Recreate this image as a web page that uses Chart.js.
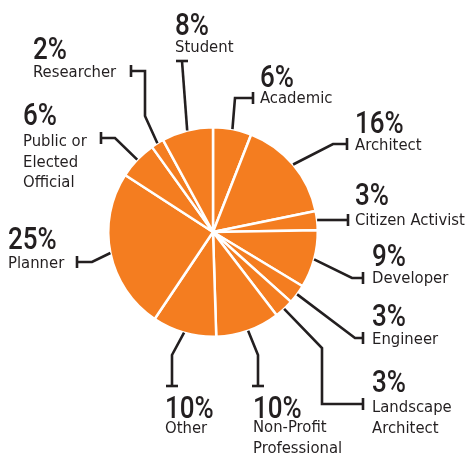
<!DOCTYPE html>
<html>
<head>
<meta charset="utf-8">
<script src="https://cdn.jsdelivr.net/npm/chart.js@4"></script>
<style>
  body { margin: 0; background: #fff; }
  #wrap { width: 469px; height: 456px; }
</style>
</head>
<body>
<div id="wrap"><canvas id="grafico" width="469" height="456"></canvas></div>
<script>
// dados
const categorias = ["Academic", "Architect", "Citizen Activist", "Developer", "Engineer", "Landscape Architect",
  "Non-Profit Professional", "Other", "Planner", "Public or Elected Official", "Researcher", "Student"];
const valores = [6, 16, 3, 9, 3, 3, 10, 10, 25, 6, 2, 8];
// how each category name wraps on the page
const linhas = [["Academic"], ["Architect"], ["Citizen Activist"], ["Developer"], ["Engineer"], ["Landscape", "Architect"],
  ["Non-Profit", "Professional"], ["Other"], ["Planner"], ["Public or", "Elected", "Official"], ["Researcher"], ["Student"]];

// leader lines + text placement, offsets from pie centre
const rotulos = [
  { path: [[22, -134], [40, -134]], tick: "v", x: 47, pct: -145, lab: -129 },
  { path: [[120, -88], [134, -88]], tick: "v", x: 142, pct: -99, lab: -82 },
  { path: [[135, -12]], tick: "v", x: 142, pct: -27, lab: -7, flat: true },
  { path: [[139, 46], [150, 46]], tick: "v", x: 159, pct: 34, lab: 51 },
  { path: [[142, 106], [150, 106]], tick: "v", x: 159, pct: 94, lab: 112 },
  { path: [[109, 116], [109, 172], [150, 172]], tick: "v", x: 159, pct: 160, lab: 180 },
  { path: [[45, 123], [45, 154]], tick: "h", x: 40, pct: 186, lab: 200 },
  { path: [[-41, 123], [-41, 154]], tick: "h", x: -48, pct: 186, lab: 201 },
  { path: [[-121, 30], [-136, 30]], tick: "v", x: -205, pct: 17, lab: 36 },
  { path: [[-98, -94], [-112, -94]], tick: "v", x: -190, pct: -107, lab: -86 },
  { path: [[-68, -116], [-68, -161], [-82, -161]], tick: "v", x: -180, pct: -173, lab: -155 },
  { path: [[-31, -171]], tick: "h", x: -38, pct: -197, lab: -180 }
];

const tinta = "#231f20";

const rotulosPlugin = {
  id: "rotulos",
  afterDraw(chart) {
    const c = chart.ctx;
    const arcs = chart.getDatasetMeta(0).data;
    c.save();
    c.strokeStyle = tinta;
    c.fillStyle = tinta;
    c.lineWidth = 2.6;
    c.lineJoin = "miter";
    arcs.forEach((arc, i) => {
      const r = rotulos[i];
      const cx = arc.x, cy = arc.y;
      const meio = (arc.startAngle + arc.endAngle) / 2;
      let sx = cx + arc.outerRadius * Math.cos(meio);
      let sy = cy + arc.outerRadius * Math.sin(meio);
      if (r.flat) sy = cy + r.path[0][1];
      c.beginPath();
      c.moveTo(sx, sy);
      r.path.forEach(p => c.lineTo(cx + p[0], cy + p[1]));
      c.stroke();
      // end cap
      const fim = r.path[r.path.length - 1];
      const ex = cx + fim[0], ey = cy + fim[1];
      c.beginPath();
      if (r.tick === "v") { c.moveTo(ex, ey - 6); c.lineTo(ex, ey + 6); }
      else { c.moveTo(ex - 6, ey); c.lineTo(ex + 6, ey); }
      c.stroke();
      // texts
      c.textAlign = "left";
      c.textBaseline = "alphabetic";
      // narrow percent figures: squeeze Roboto horizontally
      c.save();
      c.translate(cx + r.x, cy + r.pct);
      c.scale(0.84, 1);
      c.font = "500 31px Roboto, sans-serif";
      c.fillText(valores[i] + "%", 0, 0);
      c.restore();
      c.font = "500 16.5px 'DejaVu Sans Condensed', sans-serif";
      linhas[i].forEach((t, k) => c.fillText(t, cx + r.x, cy + r.lab + k * 20.5));
    });
    c.restore();
  }
};

new Chart(document.getElementById("grafico"), {
  type: "pie",
  data: {
    labels: categorias,
    datasets: [{
      data: valores,
      backgroundColor: "#f47d20",
      borderColor: "#ffffff",
      borderWidth: 2.5
    }]
  },
  options: {
    responsive: false,
    animation: false,
    devicePixelRatio: 1,
    layout: { padding: { left: 107, right: 150, top: 126, bottom: 118 } },
    plugins: {
      legend: { display: false },
      tooltip: { enabled: false }
    }
  },
  plugins: [rotulosPlugin]
});
</script>
</body>
</html>
